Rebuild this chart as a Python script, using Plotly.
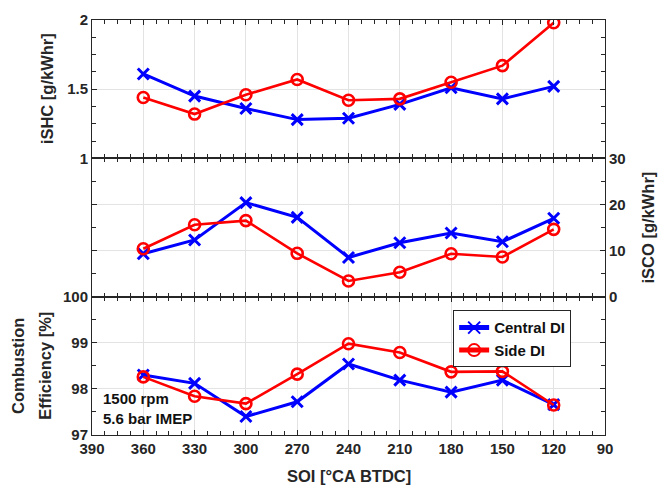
import plotly.graph_objects as go
from plotly.subplots import make_subplots

soi = [360, 330, 300, 270, 240, 210, 180, 150, 120]
ishc_central = [1.61, 1.45, 1.36, 1.28, 1.29, 1.39, 1.51, 1.43, 1.52]
ishc_side = [1.44, 1.32, 1.46, 1.57, 1.42, 1.43, 1.55, 1.67, 1.98]
isco_central = [9.3, 12.3, 20.4, 17.2, 8.5, 11.7, 13.8, 11.9, 17.0]
isco_side = [10.4, 15.6, 16.5, 9.4, 3.4, 5.3, 9.3, 8.6, 14.6]
ce_central = [98.30, 98.12, 97.40, 97.72, 98.54, 98.19, 97.93, 98.19, 97.66]
ce_side = [98.26, 97.84, 97.68, 98.32, 98.98, 98.79, 98.37, 98.38, 97.65]

series_names = ["Central DI", "Side DI"]
FONT = "Liberation Sans, Arial, sans-serif"
TXT = "#262626"
AX = "#262626"
GRID = "#e3e3e3"

fig = make_subplots(rows=3, cols=1, shared_xaxes=True, vertical_spacing=0)

panels = [(ishc_central, ishc_side), (isco_central, isco_side), (ce_central, ce_side)]
for i, (c, s) in enumerate(panels, start=1):
    fig.add_trace(go.Scatter(
        x=soi, y=c, mode="lines+markers", name=series_names[0],
        line=dict(color="#0000ff", width=3),
        marker=dict(symbol="x-thin", size=11, line=dict(color="#0000ff", width=3)),
        showlegend=(i == 3), legendrank=1), row=i, col=1)
    fig.add_trace(go.Scatter(
        x=soi, y=s, mode="lines+markers", name=series_names[1],
        line=dict(color="#ff0000", width=2.6),
        marker=dict(symbol="circle-open", size=11, color="#ff0000",
                    line=dict(color="#ff0000", width=2.6)),
        showlegend=(i == 3), legendrank=2), row=i, col=1)

common_axis = dict(
    showline=True, linecolor=AX, linewidth=1, mirror="ticks",
    ticks="inside", ticklen=5, tickwidth=1, tickcolor=AX,
    showgrid=True, gridcolor=GRID, gridwidth=1, zeroline=False,
    tickfont=dict(family=FONT, size=15, color=TXT, weight="bold"),
)

for i in range(1, 4):
    fig.update_xaxes(
        range=[390, 90], tickmode="linear", tick0=90, dtick=30,
        minor=dict(dtick=7.5, tick0=90, ticks="inside", ticklen=4, tickcolor=AX, showgrid=False),
        showticklabels=(i == 3), row=i, col=1, **common_axis)

fig.update_yaxes(range=[1, 2], tickmode="array", tickvals=[1, 1.5, 2], ticktext=["1", "1.5", "2"],
                 minor=dict(dtick=0.125, tick0=1, ticks="inside", ticklen=4, tickcolor=AX, showgrid=False),
                 row=1, col=1, **common_axis)
fig.update_yaxes(range=[0, 30], tickmode="linear", tick0=0, dtick=10, side="right",
                 minor=dict(dtick=5, tick0=0, ticks="inside", ticklen=4, tickcolor=AX, showgrid=False),
                 row=2, col=1, **common_axis)
fig.update_yaxes(range=[97, 100], tickmode="linear", tick0=97, dtick=1,
                 minor=dict(dtick=0.5, tick0=97, ticks="inside", ticklen=4, tickcolor=AX, showgrid=False),
                 row=3, col=1, **common_axis)

tfont = dict(family=FONT, size=16.5, color=TXT, weight="bold")
afont = dict(family=FONT, size=15, color="#111111", weight="bold")

annos = [
    dict(text="iSHC [g/kWhr]", x=-0.0877, y=0.8333, textangle=-90, font=tfont),
    dict(text="iSCO [g/kWhr]", x=1.0838, y=0.5, textangle=-90, font=tfont),
    dict(text="Combustion", x=-0.144, y=0.1667, textangle=-90, font=tfont),
    dict(text="Efficiency [%]", x=-0.0916, y=0.1667, textangle=-90, font=tfont),
    dict(text="SOI [°CA BTDC]", x=0.5, y=-0.0978, textangle=0, font=tfont),
]
for a in annos:
    fig.add_annotation(xref="paper", yref="paper", xanchor="center", yanchor="middle",
                       showarrow=False, **a)

fig.add_annotation(xref="paper", yref="paper", x=0.017, y=(435.5 - 398) / 424.5,
                   xanchor="left", yanchor="middle", text="1500 rpm", showarrow=False, font=afont)
fig.add_annotation(xref="paper", yref="paper", x=0.017, y=(435.5 - 419) / 424.5,
                   xanchor="left", yanchor="middle", text="5.6 bar IMEP", showarrow=False, font=afont)

fig.update_layout(
    width=668, height=491,
    margin=dict(l=92, r=63, t=11, b=56),
    paper_bgcolor="white", plot_bgcolor="white",
    font=dict(family=FONT, color=TXT),
    legend=dict(x=0.704, y=(435.5 - 308) / 424.5, xanchor="left", yanchor="top",
                bgcolor="white", bordercolor="#262626", borderwidth=1,
                font=dict(family=FONT, size=15, color="#111111", weight="bold"),
                tracegroupgap=0, itemsizing="constant"),
)

fig.write_html("out.html")
